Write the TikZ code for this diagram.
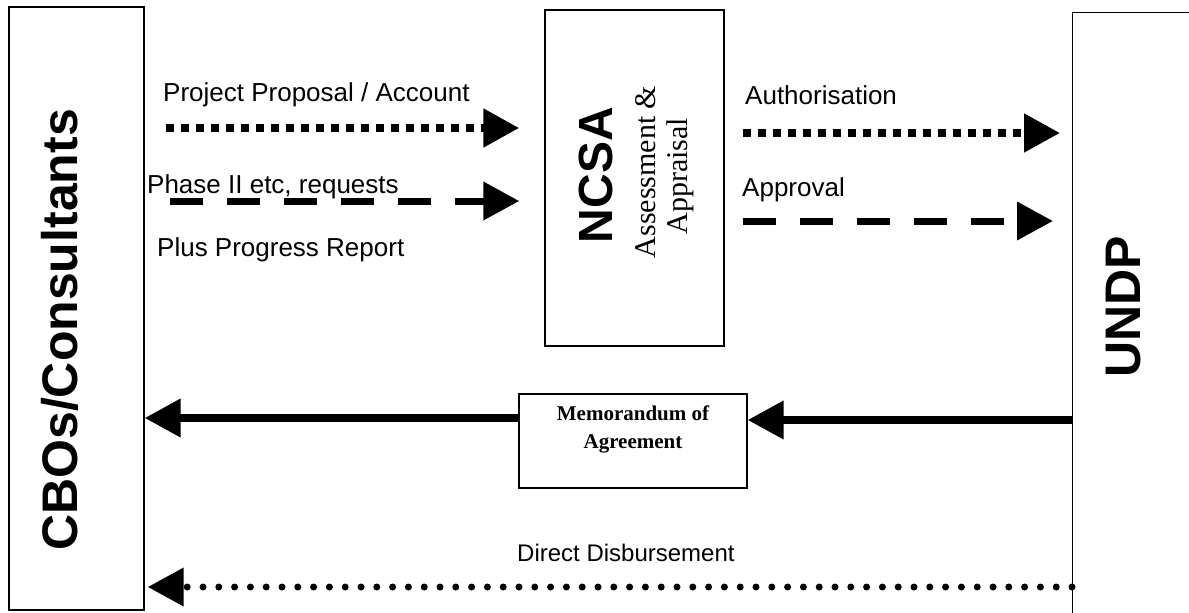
\documentclass[tikz,border=0pt]{standalone}
\usepackage{fontspec}
\setmainfont{Liberation Serif}
\setsansfont{Liberation Sans}
\usepackage{tikz}
\usetikzlibrary{arrows.meta}

\begin{document}
\begin{tikzpicture}[x=1pt,y=-1pt,
    box/.style={draw,line width=1.4pt,inner sep=0pt},
    bigname/.style={font=\sffamily\bfseries\fontsize{50}{50}\selectfont,rotate=90,anchor=base},
    sidename/.style={font=\fontsize{30}{30}\selectfont,rotate=90,anchor=base},
    flowtxt/.style={font=\sffamily\fontsize{26}{30}\selectfont,anchor=base west,inner sep=0pt},
    bigtip/.style={-{Triangle[length=36pt,width=37pt]}},
    sqflow/.style={bigtip,line width=8pt,dash pattern=on 8pt off 7pt},
    dashflow/.style={bigtip,line width=7pt,dash pattern=on 33pt off 24pt},
    solidflow/.style={bigtip,line width=7.5pt},
    dotflow/.style={bigtip,line width=7pt,line cap=round,dash pattern=on 0pt off 15.8pt}]
    \useasboundingbox (0,0) rectangle (1189,613);
    \clip (0,0) rectangle (1189,613);

    \node[box,minimum width=135pt,minimum height=603pt] (cbo) at (76.5,308.5) {};
    \node[box,minimum width=179pt,minimum height=336pt] (ncsa) at (634.5,178) {};
    \node[box,minimum width=228pt,minimum height=94pt] (memo) at (633,441) {};
    \node[box,minimum width=300pt,minimum height=700pt,anchor=north west] (undp) at (1072,12) {};

    \node[bigname] (cbolbl) at (77,330) {CBOs/Consultants};
    \node[bigname,font=\sffamily\bfseries\fontsize{48}{48}\selectfont] (ncsalbl) at (612,175) {NCSA};
    \node[sidename] (assess) at (655,172) {Assessment \&};
    \node[sidename] (apprais) at (687,176) {Appraisal};
    \node[bigname] (undplbl) at (1140,307) {UNDP};
    \node[align=center,font=\bfseries\fontsize{21}{28}\selectfont] (memotxt) at (633,429) {Memorandum of\\Agreement};

    \node[flowtxt] (pptxt) at (163,101) {Project Proposal / Account};
    \node[flowtxt] (phtxt) at (147,193) {Phase II etc, requests};
    \node[flowtxt] (prtxt) at (157,256) {Plus Progress Report};
    \node[flowtxt] (authtxt) at (745,104) {Authorisation};
    \node[flowtxt] (apprtxt) at (742,196) {Approval};
    \node[flowtxt,font=\sffamily\fontsize{24}{30}\selectfont] (ddtxt) at (517,561) {Direct Disbursement};

    \draw[sqflow,shorten <=21pt,shorten >=25pt] (cbo.east |- 0,128) -- (ncsa.west |- 0,128);
    \draw[dashflow,shorten <=25pt,shorten >=25pt] (cbo.east |- 0,201) -- (ncsa.west |- 0,201);
    \draw[sqflow,shorten <=18pt,shorten >=12pt] (ncsa.east |- 0,133) -- (undp.west |- 0,133);
    \draw[dashflow,shorten <=18pt,shorten >=19pt] (ncsa.east |- 0,221) -- (undp.west |- 0,221);
    \draw[solidflow] (undp.west |- 0,420) -- (memo.east |- 0,420);
    \draw[solidflow] (memo.west |- 0,418) -- (cbo.east |- 0,418);
    \draw[dotflow,shorten >=3pt] (undp.west |- 0,587) -- (cbo.east |- 0,587);
\end{tikzpicture}
\end{document}
